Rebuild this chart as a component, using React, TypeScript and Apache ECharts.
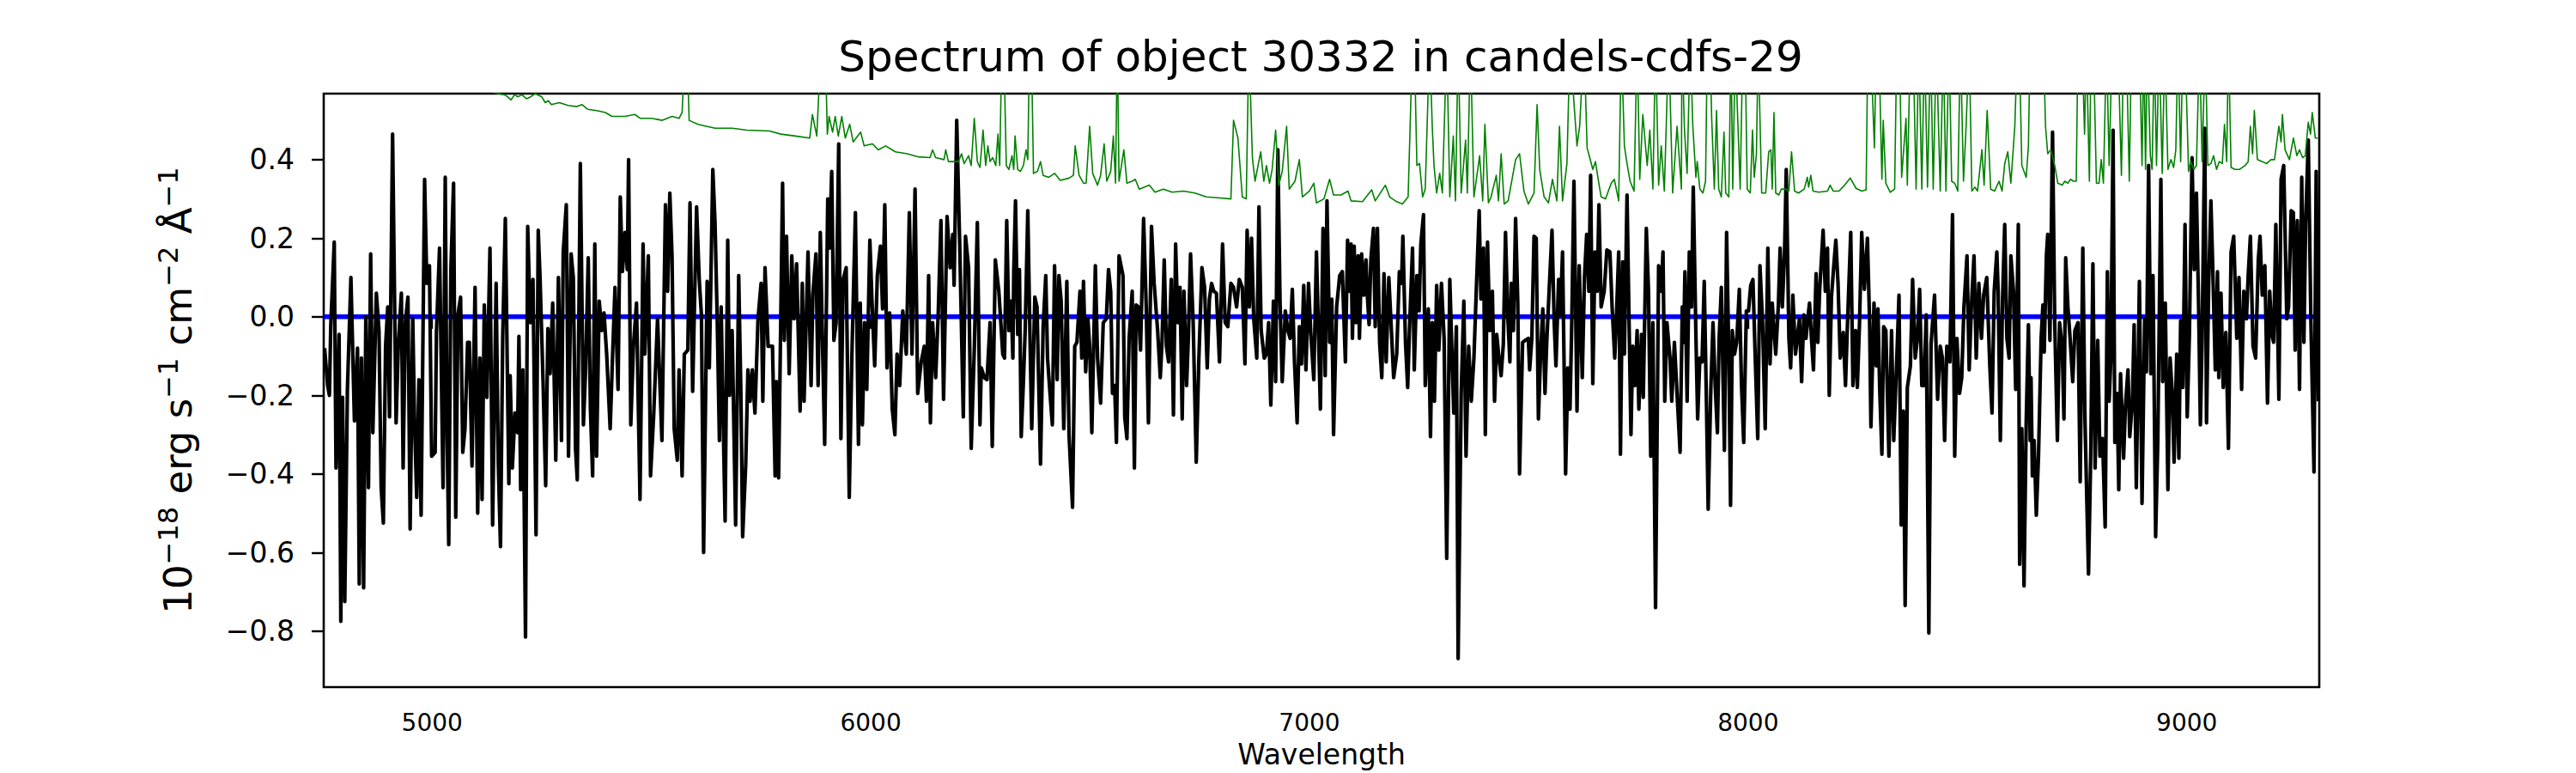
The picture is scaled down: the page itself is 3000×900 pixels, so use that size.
import React, { useEffect, useRef } from 'react';
import * as echarts from 'echarts';

const TITLE = 'Spectrum of object 30332 in candels-cdfs-29';
const X_NAME = 'Wavelength';
const Y_NAME = '{b|10}{s|\u221218}{b| erg s}{s|\u22121}{b| cm}{s|\u22122}{b| \u00c5}{s|\u22121}';
const X_MIN = 4753;
const X_MAX = 9302;
const Y_MIN = -0.9425;
const Y_MAX = 0.568;
const X_TICKS = [5000, 6000, 7000, 8000, 9000];
const Y_TICKS = [-0.8, -0.6, -0.4, -0.2, 0, 0.2, 0.4];
const ZERO_LEVEL = 0;

// Flux spectrum, [wavelength (Å), flux (1e-18 erg/s/cm2/Å)]
const SPECTRUM_A = [[4755,-0.08],[4762,-0.175],[4766,-0.2],[4769,-0.025],[4777,0.19],[4781,-0.385],[4788,-0.045],[4792,-0.775],[4796,-0.205],[4801,-0.725],[4807,-0.185],[4815,0.10],[4823,-0.265],[4830,-0.08],[4834,-0.68],[4839,-0.105],[4844,-0.69],[4849,0],[4855,-0.435],[4860,0.16],[4865,-0.295],[4873,0.06],[4879,-0.035],[4884,-0.435],[4889,-0.525],[4894,-0.075],[4899,0.025],[4903,-0.255],[4910,0.465],[4915,0],[4918,-0.27],[4923,-0.075],[4930,0.06],[4934,-0.385],[4939,-0.015],[4945,0.05],[4950,-0.54],[4956,-0.005],[4960,-0.265],[4965,-0.46],[4970,-0.16],[4975,-0.505],[4983,0.35],[4988,0.085],[4994,0.13],[4999,-0.355],[5007,-0.345],[5010,-0.04],[5017,0.175],[5025,-0.435],[5030,0.355],[5034,-0.285],[5038,-0.58],[5043,0.125],[5049,0.34],[5054,-0.51],[5059,0.005],[5065,0.05],[5070,-0.345],[5075,-0.285],[5081,-0.065],[5085,-0.065],[5091,-0.38],[5098,0.075],[5104,-0.5],[5109,-0.105],[5114,-0.465],[5119,0.03],[5125,-0.205],[5132,0.175],[5138,-0.53],[5146,0.085],[5151,-0.375],[5156,-0.585],[5161,-0.055],[5167,0.25],[5175,-0.425],[5178,-0.15],[5183,-0.385],[5189,-0.245],[5195,-0.295],[5198,-0.05],[5202,-0.44],[5207,-0.135],[5213,-0.815],[5218,0.23],[5224,-0.015],[5230,0.095],[5237,-0.555],[5242,0.22],[5246,0.105],[5253,-0.165],[5259,-0.43],[5264,-0.03],[5269,-0.145],[5275,0.035],[5282,-0.365],[5288,0.10],[5295,-0.315],[5299,0.165],[5306,0.285],[5311,-0.355],[5317,0.16],[5322,0.10],[5327,-0.335],[5331,-0.415],[5338,0.39],[5345,-0.275],[5350,-0.135],[5356,0.15],[5361,-0.235],[5366,-0.405],[5371,0.185],[5375,-0.355],[5381,0.04],[5387,-0.035],[5392,0.01],[5398,-0.095],[5406,-0.285],[5411,-0.115],[5417,0.075],[5424,-0.185],[5429,0.305],[5434,0.115],[5440,0.215],[5445,0.12],[5448,0.40],[5453,-0.275],[5459,-0.075],[5466,0.035],[5474,-0.465],[5481,0.185],[5485,-0.095],[5493,0.155],[5498,-0.405],[5505,-0.255],[5514,-0.005],[5524,-0.315]];
const SPECTRUM_B = [[5532,0.285],[5537,0.065],[5542,0.315],[5547,0.155],[5552,-0.285],[5559,-0.365],[5563,-0.135],[5570,-0.405],[5575,-0.095],[5583,-0.085],[5588,0.29],[5594,-0.19],[5603,0.28],[5609,0.095],[5614,0.005],[5619,-0.6],[5627,0.09],[5632,-0.13],[5640,0.375],[5645,0.24],[5650,-0.005],[5655,-0.315],[5659,0.025],[5665,-0.345],[5668,-0.52],[5674,0.195],[5678,-0.2],[5684,-0.035],[5692,-0.53],[5699,0.105],[5704,-0.195],[5708,-0.56],[5715,-0.375],[5720,-0.135],[5725,-0.215],[5730,-0.135],[5736,-0.245],[5743,-0.005],[5750,0.085],[5754,-0.215],[5759,0.125],[5766,-0.075],[5776,-0.075],[5782,-0.405],[5785,-0.165],[5790,-0.41],[5799,0.34],[5803,-0.06],[5808,0.205],[5814,-0.145],[5820,0.155],[5825,-0.005],[5831,0.135],[5839,-0.24],[5844,0.085],[5848,-0.215],[5857,0.165],[5864,-0.175],[5868,0.055],[5875,0.16],[5880,-0.175],[5885,0.215],[5890,-0.065],[5895,-0.325],[5902,0.30],[5906,0.175],[5911,0.37],[5916,-0.06],[5921,-0.015],[5927,0.44],[5932,-0.31],[5937,0.095],[5944,0.125],[5951,-0.46],[5957,-0.1],[5965,0.265],[5972,-0.325],[5976,0.035],[5981,-0.275],[5986,-0.015],[5991,-0.185],[5998,0.195],[6003,0.035],[6009,-0.125],[6015,0.105],[6022,0.18],[6027,0.02],[6032,0.285],[6037,-0.13],[6043,0.01],[6049,-0.235],[6055,-0.3],[6060,-0.095],[6066,-0.175],[6073,0.015],[6081,-0.095],[6088,0.265],[6094,-0.095],[6101,0.325],[6107,-0.195],[6115,-0.115],[6122,-0.075],[6127,-0.215],[6132,0.105],[6136,-0.27],[6141,-0.015],[6148,-0.155],[6154,0.015],[6160,0.245],[6166,-0.21],[6174,0.255],[6181,0.125],[6187,0.21],[6190,0.08],[6196,0.50],[6203,0.175],[6211,-0.255],[6216,0.205],[6223,0.125],[6229,-0.335],[6236,-0.085],[6243,0.24],[6249,-0.275],[6252,-0.13],[6259,-0.155],[6265,-0.16],[6272,-0.015],[6277,-0.33],[6284,0.145],[6292,0.065],[6301,-0.095]];
const SPECTRUM_C = [[6305,-0.105],[6310,0.245],[6315,-0.035],[6320,0.04],[6324,-0.105],[6326,0.115],[6330,0.295],[6335,-0.045],[6339,0.12],[6343,-0.305],[6348,-0.165],[6352,-0.035],[6358,0.27],[6363,-0.055],[6367,-0.285],[6374,0.05],[6379,0.025],[6387,-0.375],[6393,-0.025],[6399,0.105],[6403,-0.105],[6408,-0.185],[6414,-0.275],[6419,0.13],[6425,-0.16],[6429,0.105],[6434,0.04],[6440,-0.285],[6447,0.09],[6452,-0.3],[6460,-0.485],[6465,-0.075],[6470,-0.065],[6477,0.065],[6481,-0.105],[6485,0.09],[6490,-0.14],[6495,-0.005],[6499,-0.075],[6504,-0.295],[6512,0.13],[6517,-0.105],[6524,-0.22],[6530,-0.015],[6537,-0.005],[6542,0.12],[6547,0.065],[6551,-0.195],[6556,-0.175],[6560,-0.32],[6566,0.155],[6575,0.105],[6579,-0.255],[6584,-0.31],[6589,-0.055],[6596,0.065],[6601,-0.385],[6605,0.03],[6610,0.025],[6615,-0.085],[6622,0.25],[6628,0.025],[6633,-0.27],[6640,0.23],[6646,0.085],[6654,-0.035],[6660,-0.155],[6664,-0.065],[6669,0.145],[6674,-0.075],[6679,-0.115],[6685,0.095],[6690,-0.25],[6695,0.185],[6700,-0.015],[6705,0.075],[6710,-0.26],[6714,0.065],[6720,-0.175],[6724,-0.055],[6729,0.16],[6735,-0.015],[6742,-0.37],[6748,-0.105],[6755,0.125],[6761,0.075],[6767,-0.13],[6772,0.045],[6777,0.085],[6782,0.065],[6788,0.06],[6795,-0.115],[6802,0.185],[6808,-0.015],[6814,-0.025],[6821,0.085],[6827,0.075],[6834,0.025],[6840,0.095],[6847,0.075],[6853,-0.12],[6858,0.22],[6863,0.025],[6868,0.2],[6873,-0.005],[6880,-0.105],[6885,0.28],[6890,-0.035],[6897,-0.105],[6902,-0.095],[6907,-0.015],[6912,-0.225],[6918,0.04],[6923,-0.165],[6928,0.425],[6933,0.04],[6938,-0.165],[6945,0.015],[6951,-0.035],[6956,-0.055],[6961,0.07],[6966,-0.115],[6972,-0.27],[6977,-0.025],[6982,-0.12],[6987,0.08],[6992,-0.135],[6998,0.085],[7003,-0.04],[7010,-0.16],[7016,0.165],[7025,-0.235],[7031,0.225],[7036,-0.15],[7040,0.295],[7046,-0.065],[7051,0.045],[7055,-0.3],[7062,0.025],[7069,0.105],[7075,0.115]];
const SPECTRUM_D = [[7082,-0.115],[7087,0.195],[7091,0.065],[7095,0.185],[7098,-0.055],[7102,0.18],[7106,-0.015],[7111,0.155],[7114,-0.055],[7119,0.16],[7124,0.055],[7129,0.145],[7132,0.055],[7136,-0.02],[7140,0.145],[7146,0.225],[7150,-0.025],[7155,0.225],[7160,-0.065],[7165,-0.155],[7170,0.11],[7175,-0.115],[7181,0.1],[7186,-0.015],[7192,-0.155],[7199,-0.095],[7205,0.115],[7210,0.085],[7213,0.205],[7219,-0.065],[7224,-0.18],[7228,-0.035],[7235,0.175],[7239,-0.135],[7245,0.105],[7250,0.015],[7254,0.185],[7260,0.26],[7264,-0.175],[7271,0.02],[7276,-0.305],[7280,-0.015],[7285,-0.215],[7290,0.08],[7295,-0.085],[7301,0.085],[7307,-0.055],[7313,-0.615],[7320,0.095],[7325,-0.095],[7329,-0.245],[7335,-0.025],[7339,-0.87],[7346,-0.195],[7352,0.04],[7357,-0.355],[7363,-0.075],[7369,-0.215],[7375,-0.105],[7380,0.055],[7387,0.27],[7391,0.045],[7397,0.175],[7401,-0.3],[7406,0.19],[7411,-0.035],[7417,0.065],[7422,-0.215],[7427,-0.045],[7432,-0.105],[7437,-0.15],[7442,-0.07],[7447,0.215],[7452,0.005],[7457,-0.115],[7460,0.085],[7465,-0.035],[7470,0.25],[7475,0.035],[7479,-0.4],[7486,-0.065],[7492,-0.06],[7499,-0.055],[7502,-0.135],[7507,-0.055],[7512,0.205],[7517,0.2],[7522,-0.26],[7527,-0.095],[7532,0.02],[7537,-0.195],[7541,-0.065],[7547,0.08],[7553,0.22],[7558,-0.015],[7562,-0.125],[7568,0.095],[7572,0.005],[7577,0.165],[7584,-0.4],[7589,-0.13],[7594,-0.235],[7598,-0.015],[7603,0.345],[7610,-0.24],[7615,0.13],[7622,-0.155],[7627,0.1],[7632,0.21],[7637,0.065],[7641,0.36],[7646,-0.17],[7651,0.165],[7656,0.065],[7660,0.285],[7665,0.025],[7672,0.065],[7678,0.17],[7685,0.165],[7690,0.025],[7696,-0.105],[7700,0.005],[7705,0.165],[7709,-0.35],[7714,0.14],[7718,-0.095],[7724,0.31],[7729,-0.035],[7733,-0.3],[7737,-0.075],[7742,-0.175],[7747,-0.035],[7751,-0.235],[7757,-0.045],[7761,-0.205],[7768,0.225],[7773,0.065],[7778,-0.355],[7783,-0.015],[7789,-0.74],[7796,0.13],[7802,0.065],[7806,0.165],[7810,-0.215],[7815,-0.015],[7822,-0.105],[7826,-0.215],[7832,-0.065],[7838,-0.195],[7845,-0.345],[7850,0.025]];
const SPECTRUM_E = [[7853,-0.065],[7856,0.115],[7861,-0.215],[7866,0.165],[7871,0.025],[7875,0.33],[7881,-0.045],[7885,-0.26],[7890,-0.105],[7895,-0.115],[7900,0.09],[7905,-0.215],[7909,-0.49],[7915,-0.185],[7920,-0.015],[7925,-0.175],[7930,-0.295],[7934,-0.055],[7939,0.075],[7943,-0.165],[7946,-0.34],[7951,0.215],[7956,-0.095],[7960,-0.48],[7964,-0.035],[7969,-0.095],[7974,-0.065],[7980,0.07],[7985,-0.175],[7990,-0.32],[7996,0.015],[8001,0.015],[8006,0.08],[8011,0.095],[8016,-0.095],[8022,-0.31],[8027,0.13],[8033,-0.015],[8039,-0.285],[8045,0.175],[8050,-0.12],[8055,0.035],[8063,-0.095],[8069,0.03],[8073,0.175],[8078,0.025],[8083,0.16],[8087,0.375],[8093,-0.055],[8097,-0.13],[8102,0.055],[8108,-0.095],[8112,-0.055],[8117,-0.005],[8122,-0.165],[8127,0.005],[8132,-0.055],[8136,-0.005],[8140,0.035],[8145,-0.065],[8149,-0.135],[8155,0.11],[8159,-0.065],[8163,0.065],[8171,0.22],[8176,0.065],[8181,0.175],[8185,-0.2],[8190,0.05],[8195,0.125],[8200,0.195],[8205,0.085],[8210,-0.105],[8217,-0.04],[8222,-0.175],[8226,-0.035],[8234,0.215],[8239,-0.175],[8245,-0.035],[8249,-0.18],[8254,-0.015],[8259,0.215],[8265,0.07],[8272,0.2],[8277,-0.015],[8280,-0.28],[8287,0.035],[8292,-0.125],[8296,0.02],[8300,-0.185],[8305,-0.35],[8309,-0.025],[8314,-0.035],[8321,-0.355],[8327,-0.035],[8332,-0.315],[8339,-0.105],[8344,0.055],[8349,-0.53],[8354,-0.24],[8358,-0.735],[8363,-0.18],[8370,-0.125],[8375,0.095],[8381,-0.105],[8386,-0.055],[8391,0.07],[8396,-0.175],[8401,-0.175],[8406,0.005],[8412,-0.805],[8417,-0.07],[8425,0.055],[8432,-0.21],[8438,-0.075],[8443,-0.105],[8448,-0.315],[8453,-0.075],[8460,-0.115],[8466,0.26],[8471,-0.355],[8476,-0.055],[8482,-0.195],[8487,-0.155],[8492,0.025],[8499,0.155],[8504,-0.135],[8509,0.025],[8515,0.155],[8520,-0.105],[8526,0.085],[8532,-0.055],[8537,0.055],[8544,0.1],[8551,-0.125],[8556,-0.245],[8561,0.065],[8567,0.165],[8570,0.065],[8575,-0.315],[8580,0.045],[8585,0.235],[8590,-0.055],[8595,-0.105],[8599,0.155],[8605,0.065],[8610,-0.185],[8616,0.235],[8619,-0.63]];
const SPECTRUM_F = [[8624,-0.285],[8629,-0.685],[8634,-0.265],[8639,-0.02],[8643,-0.315],[8645,-0.155],[8648,-0.405],[8652,-0.315],[8657,-0.505],[8662,-0.355],[8668,-0.055],[8672,0.03],[8675,-0.09],[8680,0.155],[8683,0.21],[8688,-0.06],[8694,0.47],[8699,-0.015],[8705,-0.315],[8710,-0.015],[8716,-0.075],[8720,-0.26],[8724,0.15],[8729,0.025],[8734,-0.055],[8740,-0.165],[8745,-0.035],[8752,-0.015],[8757,-0.42],[8763,0.175],[8768,-0.265],[8776,-0.655],[8781,-0.355],[8786,0.135],[8791,-0.385],[8797,-0.06],[8802,-0.355],[8808,-0.31],[8814,-0.535],[8819,0.115],[8823,-0.215],[8827,-0.105],[8832,0.475],[8836,-0.32],[8841,-0.195],[8845,-0.44],[8849,-0.145],[8856,-0.36],[8860,-0.23],[8866,-0.135],[8870,-0.305],[8876,-0.215],[8880,-0.02],[8885,-0.435],[8892,0.09],[8898,-0.475],[8904,-0.005],[8908,-0.14],[8913,0.385],[8918,-0.145],[8923,0.105],[8929,-0.56],[8934,-0.315],[8941,0.35],[8945,-0.165],[8951,0.035],[8957,-0.44],[8962,-0.105],[8967,-0.195],[8971,-0.37],[8977,-0.095],[8982,-0.36],[8986,-0.01],[8991,-0.18],[8996,0.235],[9001,-0.255],[9006,-0.045],[9012,0.405],[9017,0.12],[9022,0.315],[9027,0.025],[9031,-0.275],[9035,-0.055],[9041,0.48],[9045,-0.27],[9050,0.085],[9055,0.295],[9059,0.135],[9065,-0.135],[9070,0.115],[9073,-0.155],[9078,0.06],[9083,-0.18],[9089,-0.04],[9095,-0.335],[9101,0.165],[9107,0.205],[9114,-0.055],[9119,0.1],[9125,-0.185],[9130,0.065],[9136,-0.005],[9140,0.105],[9145,0.205],[9151,-0.075],[9157,-0.105],[9163,0.145],[9167,0.205],[9172,0.055],[9178,0.13],[9184,-0.22],[9189,0.065],[9194,-0.045],[9198,-0.065],[9203,0.235],[9210,-0.21],[9215,0.35],[9221,0.385],[9228,-0.005],[9232,0.025],[9238,0.27],[9243,0.265],[9247,-0.085],[9252,0.245],[9257,-0.185],[9262,0.355],[9267,-0.065],[9271,0.24],[9277,0.45],[9283,-0.015],[9290,-0.395],[9295,0.37],[9300,-0.215]];

// Noise / sky spectrum (green)
const NOISE_A = [[4753,0.66],[4900,0.62],[5100,0.58],[5165,0.565],[5172,0.56],[5180,0.552],[5188,0.565],[5195,0.56],[5205,0.565],[5215,0.555],[5225,0.56],[5235,0.568],[5250,0.56],[5258,0.545],[5265,0.55],[5272,0.54],[5290,0.545],[5310,0.538],[5330,0.535],[5342,0.54],[5355,0.528],[5375,0.525],[5395,0.52],[5410,0.51],[5440,0.51],[5462,0.515],[5475,0.505],[5500,0.505],[5525,0.50]];
const NOISE_B = [[5547,0.51],[5563,0.505],[5570,0.52],[5577,0.70],[5581,0.70],[5586,0.50],[5606,0.49],[5625,0.485],[5645,0.48],[5684,0.48],[5717,0.475],[5769,0.473],[5795,0.465],[5828,0.46],[5861,0.455],[5867,0.515],[5877,0.46],[5887,0.70],[5896,0.70],[5901,0.465],[5905,0.51],[5913,0.47],[5919,0.51],[5926,0.46],[5934,0.51],[5942,0.455],[5952,0.49],[5960,0.445],[5977,0.47],[5985,0.435],[6004,0.44],[6017,0.425],[6034,0.435],[6056,0.42],[6083,0.415],[6109,0.407],[6135,0.405],[6141,0.425],[6148,0.405],[6167,0.40],[6171,0.425],[6177,0.395],[6200,0.395],[6207,0.415],[6213,0.39],[6223,0.41],[6229,0.385],[6236,0.505],[6243,0.395],[6249,0.38],[6256,0.475],[6262,0.385],[6267,0.435],[6272,0.395],[6278,0.405],[6285,0.385],[6290,0.465],[6294,0.385],[6299,0.70]];
const NOISE_C = [[6303,0.70],[6309,0.385],[6315,0.375],[6322,0.41],[6326,0.375],[6329,0.46],[6335,0.375],[6341,0.37],[6348,0.385],[6354,0.425],[6358,0.40],[6362,0.70],[6366,0.70],[6371,0.365],[6380,0.37],[6387,0.395],[6393,0.36],[6406,0.355],[6419,0.365],[6432,0.347],[6452,0.353],[6462,0.36],[6466,0.435],[6475,0.36],[6485,0.34],[6491,0.34],[6499,0.485],[6506,0.365],[6517,0.335],[6524,0.36],[6532,0.44],[6538,0.345],[6547,0.37],[6553,0.46],[6558,0.34],[6562,0.70],[6566,0.345],[6577,0.425],[6584,0.34],[6596,0.345],[6603,0.35],[6612,0.325],[6635,0.335],[6648,0.317],[6667,0.325],[6687,0.317],[6713,0.32],[6739,0.315],[6765,0.305],[6791,0.303],[6821,0.30],[6827,0.50],[6837,0.455],[6847,0.305],[6856,0.30],[6862,0.70],[6870,0.405],[6876,0.345],[6889,0.42],[6896,0.345],[6902,0.385],[6909,0.34],[6915,0.375],[6923,0.475],[6930,0.335],[6938,0.37],[6948,0.485],[6954,0.325],[6967,0.345],[6977,0.40],[6984,0.305],[7000,0.32],[7010,0.34],[7016,0.29],[7033,0.30],[7046,0.35],[7055,0.31],[7072,0.31]];
const NOISE_D = [[7088,0.32],[7095,0.295],[7121,0.293],[7142,0.323],[7150,0.295],[7173,0.335],[7183,0.305],[7199,0.293],[7212,0.287],[7225,0.305],[7235,0.70],[7239,0.70],[7245,0.385],[7251,0.39],[7258,0.305],[7264,0.325],[7274,0.70],[7280,0.485],[7284,0.385],[7290,0.315],[7297,0.365],[7303,0.315],[7313,0.70],[7320,0.305],[7328,0.46],[7333,0.295],[7339,0.70],[7346,0.315],[7356,0.45],[7360,0.315],[7367,0.70],[7375,0.305],[7388,0.41],[7395,0.295],[7400,0.49],[7408,0.29],[7414,0.305],[7426,0.36],[7431,0.295],[7437,0.415],[7444,0.287],[7453,0.295],[7470,0.40],[7479,0.415],[7489,0.32],[7499,0.287],[7512,0.315],[7519,0.54],[7525,0.375],[7535,0.305],[7545,0.29],[7554,0.35],[7564,0.295],[7570,0.485],[7577,0.295],[7587,0.39],[7594,0.70],[7603,0.545],[7610,0.435],[7616,0.485],[7626,0.70],[7633,0.43],[7639,0.405],[7646,0.375],[7652,0.395],[7659,0.345],[7665,0.305],[7675,0.30],[7688,0.34],[7695,0.35],[7705,0.295],[7711,0.70],[7718,0.435],[7724,0.39],[7731,0.345],[7740,0.32],[7747,0.70],[7753,0.35],[7760,0.515],[7770,0.385],[7776,0.475],[7783,0.325],[7789,0.70],[7796,0.335],[7802,0.435],[7809,0.32],[7819,0.70],[7828,0.315],[7838,0.485],[7848,0.325]];
const NOISE_E = [[7849,0.70],[7855,0.475],[7861,0.365],[7868,0.70],[7874,0.485],[7881,0.355],[7884,0.395],[7890,0.325],[7897,0.315],[7903,0.345],[7907,0.70],[7913,0.70],[7917,0.505],[7923,0.325],[7928,0.525],[7933,0.325],[7939,0.305],[7945,0.47],[7949,0.315],[7956,0.305],[7961,0.70],[7965,0.325],[7971,0.70],[7975,0.545],[7982,0.325],[7988,0.70],[7993,0.70],[7998,0.325],[8005,0.315],[8010,0.475],[8014,0.355],[8019,0.415],[8023,0.70],[8031,0.315],[8040,0.315],[8047,0.42],[8052,0.425],[8055,0.325],[8059,0.52],[8063,0.315],[8070,0.31],[8076,0.325],[8086,0.325],[8093,0.32],[8099,0.42],[8106,0.32],[8115,0.315],[8128,0.325],[8135,0.355],[8138,0.33],[8143,0.36],[8148,0.32],[8161,0.317],[8181,0.32],[8187,0.335],[8194,0.32],[8207,0.32],[8220,0.335],[8233,0.353],[8246,0.327],[8259,0.32],[8269,0.323],[8273,0.70],[8279,0.70],[8288,0.43],[8292,0.70],[8298,0.70],[8305,0.35],[8308,0.50],[8314,0.34],[8324,0.317],[8334,0.325],[8339,0.70],[8345,0.70],[8350,0.355],[8360,0.505],[8363,0.335],[8370,0.70],[8376,0.70],[8383,0.325],[8389,0.70],[8396,0.325],[8402,0.70],[8409,0.33],[8416,0.70],[8422,0.325],[8429,0.70],[8438,0.32],[8445,0.70],[8451,0.32],[8458,0.70],[8464,0.345],[8471,0.34],[8478,0.32],[8484,0.70],[8491,0.345],[8497,0.485],[8504,0.70],[8510,0.32],[8517,0.33],[8523,0.32],[8533,0.425],[8538,0.335],[8545,0.525],[8553,0.325],[8562,0.32],[8572,0.345],[8579,0.32],[8585,0.39],[8592,0.42],[8599,0.34],[8608,0.485],[8614,0.70]];
const NOISE_F = [[8618,0.70],[8624,0.385],[8634,0.355],[8639,0.435],[8643,0.70],[8654,0.70],[8667,0.70],[8673,0.70],[8678,0.485],[8683,0.415],[8690,0.425],[8699,0.385],[8706,0.34],[8716,0.335],[8722,0.345],[8729,0.34],[8735,0.35],[8742,0.345],[8748,0.345],[8752,0.70],[8761,0.70],[8767,0.465],[8771,0.70],[8778,0.345],[8782,0.70],[8787,0.70],[8794,0.34],[8800,0.34],[8805,0.40],[8810,0.34],[8817,0.70],[8823,0.385],[8830,0.70],[8836,0.70],[8843,0.70],[8851,0.36],[8856,0.70],[8862,0.70],[8869,0.345],[8874,0.70],[8879,0.70],[8885,0.70],[8892,0.70],[8898,0.385],[8902,0.70],[8906,0.375],[8910,0.70],[8917,0.41],[8921,0.375],[8926,0.70],[8931,0.385],[8937,0.70],[8944,0.365],[8950,0.70],[8957,0.375],[8964,0.40],[8970,0.38],[8975,0.425],[8980,0.70],[8986,0.395],[8991,0.70],[8996,0.70],[9004,0.37],[9009,0.395],[9016,0.375],[9022,0.385],[9029,0.70],[9035,0.395],[9042,0.70],[9048,0.385],[9055,0.39],[9061,0.41],[9068,0.375],[9074,0.395],[9081,0.39],[9086,0.49],[9091,0.395],[9095,0.70],[9101,0.38],[9110,0.375],[9120,0.375],[9133,0.385],[9140,0.395],[9145,0.485],[9150,0.415],[9154,0.525],[9161,0.40],[9172,0.395],[9182,0.39],[9192,0.40],[9200,0.40],[9210,0.485],[9215,0.445],[9218,0.515],[9224,0.425],[9234,0.40],[9243,0.455],[9251,0.41],[9257,0.425],[9264,0.405],[9270,0.41],[9277,0.495],[9282,0.465],[9286,0.52],[9293,0.455],[9299,0.455]];

const FONT = '"DejaVu Sans", sans-serif';

function fmtY(v: number): string {
  const s = Math.abs(v).toFixed(1);
  return v < -1e-9 ? '\u2212' + s : s;
}

export default function App() {
  const ref = useRef<HTMLDivElement>(null);
  useEffect(() => {
    document.body.style.margin = '0';
    if (!ref.current) return;
    const chart = echarts.init(ref.current, undefined, { renderer: 'svg' });
    const spectrum = [...SPECTRUM_A, ...SPECTRUM_B, ...SPECTRUM_C, ...SPECTRUM_D, ...SPECTRUM_E, ...SPECTRUM_F];
    const noise = [...NOISE_A, ...NOISE_B, ...NOISE_C, ...NOISE_D, ...NOISE_E, ...NOISE_F];
    const option = {
      animation: false,
      backgroundColor: '#ffffff',
      title: {
        text: TITLE,
        left: 1538,
        top: 41,
        textAlign: 'center',
        padding: 0,
        textStyle: { fontFamily: FONT, fontSize: 50, fontWeight: 'normal', color: '#000' },
      },
      grid: {
        left: 377, right: 299, top: 109, bottom: 97,
        show: true, borderColor: '#000', borderWidth: 2.6, backgroundColor: 'transparent',
      },
      xAxis: {
        type: 'value', min: X_MIN, max: X_MAX,
        name: X_NAME, nameLocation: 'middle', nameGap: 62,
        nameTextStyle: { fontFamily: FONT, fontSize: 33, color: '#000' },
        axisLine: { show: false },
        axisTick: { show: true, length: 14, lineStyle: { color: '#000', width: 2.4 }, customValues: X_TICKS },
        axisLabel: { customValues: X_TICKS, margin: 27, fontFamily: FONT, fontSize: 28, color: '#000', formatter: (v: number) => String(v) },
        splitLine: { show: false },
      },
      yAxis: {
        type: 'value', min: Y_MIN, max: Y_MAX,
        name: Y_NAME, nameLocation: 'middle', nameGap: 142, nameRotate: 90,
        nameTextStyle: {
          fontFamily: FONT, fontSize: 45, color: '#000',
          rich: {
            b: { fontFamily: FONT, fontSize: 45, lineHeight: 55, color: '#000' },
            s: { fontFamily: FONT, fontSize: 32, lineHeight: 30, verticalAlign: 'top', color: '#000' },
          },
        },
        axisLine: { show: false },
        axisTick: { show: true, length: 14, lineStyle: { color: '#000', width: 2.4 }, customValues: Y_TICKS },
        axisLabel: { customValues: Y_TICKS, margin: 34, fontFamily: FONT, fontSize: 33, color: '#000', formatter: fmtY },
        splitLine: { show: false },
      },
      series: [
        {
          name: 'zero', type: 'line', z: 1, symbol: 'none', silent: true,
          data: [[X_MIN, ZERO_LEVEL], [X_MAX, ZERO_LEVEL]],
          lineStyle: { color: '#0000ff', width: 5.5 },
        },
        {
          name: 'flux', type: 'line', z: 2, symbol: 'none', silent: true, clip: true,
          data: spectrum,
          lineStyle: { color: '#000000', width: 4.2, join: 'round' },
        },
        {
          name: 'noise', type: 'line', z: 3, symbol: 'none', silent: true, clip: true,
          data: noise,
          lineStyle: { color: '#008000', width: 1.6, join: 'round' },
        },
      ],
    };
    chart.setOption(option as any);
    return () => chart.dispose();
  }, []);
  return <div ref={ref} style={{ width: 3000, height: 900 }} />;
}
